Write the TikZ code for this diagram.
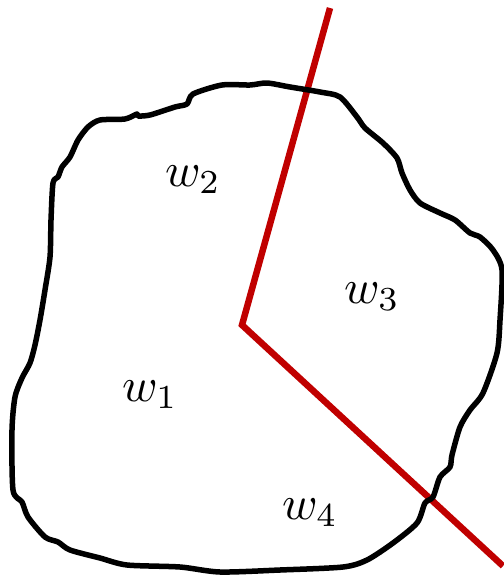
\documentclass[tikz,border=0pt]{standalone}
\begin{document}
\begin{tikzpicture}[x=1pt,y=-1pt,
  region/.style={line width=5.5pt,black,line join=round},
  cut/.style={line width=6.5pt,color={rgb,255:red,192;green,0;blue,0}},
  lbl/.style={scale=4.8,inner sep=0pt}]
\useasboundingbox (0,0) rectangle (503,577);
\coordinate (top) at (330,8);
\coordinate (c) at (242,325);
\coordinate (br) at (503,566);
\draw[cut] (top) -- (c) -- (br);
\draw[region] plot[smooth cycle,tension=0.45] coordinates {
(250,85) (222,85) (193,94) (187,104) (175,107) (150,115) (138,116) (137,114) (125,119) (100,120)
(88,127) (78,140) (70,157) (62,167) (58,177) (53,183) (51,220) (50,257) (45,290) (40,320)
(35,345) (30,363) (22,378) (15,397) (12,430) (13,490) (22,502) (28,517) (45,537) (58,542)
(70,550) (100,558) (127,565) (180,567) (220,572) (280,570) (343,567) (367,560) (393,543)
(417,523) (425,503) (433,497) (440,477) (450,467) (452,455) (460,427) (470,410) (483,393)
(497,353) (500,320) (502,270) (493,250) (480,237) (470,233) (455,220) (440,213) (420,203)
(410,190) (402,173) (397,158) (383,143) (365,128) (357,117) (340,97) (320,92) (290,87) (267,83)};
\node[lbl] (w2) at (193,180) {$w_2$};
\node[lbl] (w3) at (372,297) {$w_3$};
\node[lbl] (w1) at (150,395) {$w_1$};
\node[lbl] (w4) at (310,513) {$w_4$};
\end{tikzpicture}
\end{document}
